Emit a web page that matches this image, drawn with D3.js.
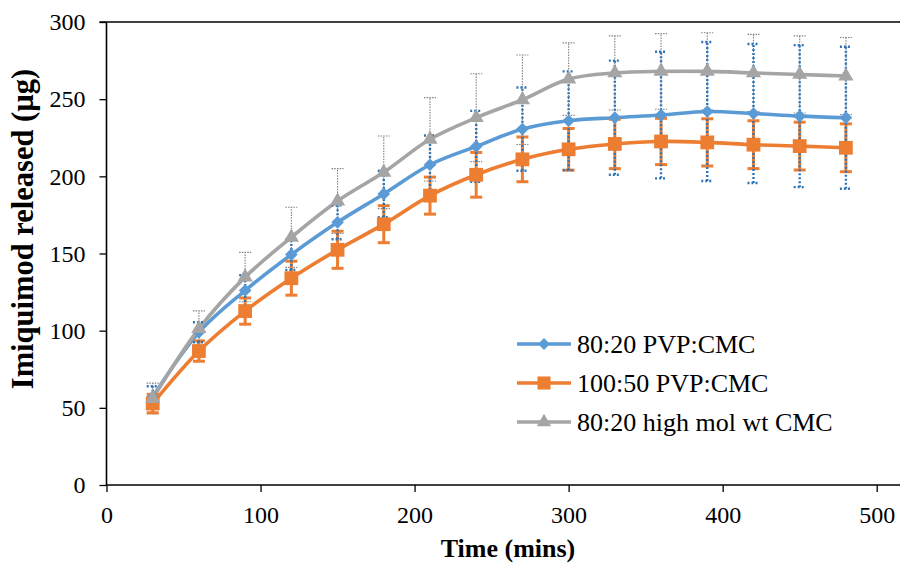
<!DOCTYPE html>
<html><head><meta charset="utf-8">
<script src="https://cdn.jsdelivr.net/npm/d3@7"></script>
<style>body{margin:0;background:#fff}svg{display:block}text{font-family:"Liberation Serif","Times New Roman",serif;fill:#000}</style>
</head><body><svg id="c" width="900" height="567"></svg>
<script>
const times = [30,60,90,120,150,180,210,240,270,300,330,360,390,420,450,480];
const seriesNames = ["80:20 PVP:CMC","100:50 PVP:CMC","80:20 high mol wt CMC"];
const blueVals = [57,99,126,149.3,170.2,188.6,207.5,219.4,230.6,236,238,239.7,242,240.7,239,238];
const blueErr  = [7,6.5,10,10,11,15,19,23,27,32,37,41,45,45,46,46];
const orangeVals = [52.8,86.8,112.7,134,152.4,169,187.5,201,211,217.5,221,222.6,222,220.5,219.6,218.5];
const orangeErr  = [6,6.6,8.5,11,12,12,12,14.5,14.5,13.5,16,15,15.3,15.5,15.5,15.5];
const grayVals = [56,101.3,134.7,160.5,184,202.6,224,238,249.6,263,267,268,268,267,266,265];
const grayErr  = [10,11.5,16,19.5,21,23.5,27,28.5,29,23.5,24,24.5,25,25,25,25];
const xTicks = [0,100,200,300,400,500];
const yTicks = [0,50,100,150,200,250,300];

const svg = d3.select("#c");
const X0 = 106.5;
const x = d3.scaleLinear().domain([0,500]).range([X0,876.7]);
const y = d3.scaleLinear().domain([0,300]).range([485,22]);

const series = [
  {name:seriesNames[0], vals:blueVals, err:blueErr, color:"#5B9BD5", sym:"diamond",
   eb:{color:"#2E75B6", w:2.4, dash:"2,2"}},
  {name:seriesNames[1], vals:orangeVals, err:orangeErr, color:"#ED7D31", sym:"square",
   eb:{color:"#ED7D31", w:3, dash:null}},
  {name:seriesNames[2], vals:grayVals, err:grayErr, color:"#A5A5A5", sym:"triangle",
   eb:{color:"#808080", w:1.1, dash:"1.5,1.2"}}
];

// axes
const gx = svg.append("g").attr("transform","translate(0,485)")
  .call(d3.axisBottom(x).tickValues(xTicks).tickSize(7).tickSizeOuter(0).tickPadding(14));
gx.select(".domain").remove();
svg.append("line").attr("x1",X0).attr("x2",900).attr("y1",485).attr("y2",485)
  .attr("stroke","#000").attr("stroke-width",1.6);
gx.selectAll("line").attr("stroke","#000").attr("stroke-width",1.3);
gx.selectAll("text").attr("font-size",24).attr("fill","#000");

const gy = svg.append("g").attr("transform",`translate(${X0},0)`)
  .call(d3.axisLeft(y).tickValues(yTicks).tickSize(7).tickSizeOuter(0).tickPadding(14));
gy.select(".domain").remove();
svg.append("line").attr("x1",X0).attr("x2",X0).attr("y1",22).attr("y2",485)
  .attr("stroke","#000").attr("stroke-width",1.6);
svg.append("line").attr("x1",99.5).attr("x2",900).attr("y1",22).attr("y2",22)
  .attr("stroke","#000").attr("stroke-width",1.6);
gy.selectAll("line").attr("stroke","#000").attr("stroke-width",1.3);
gy.selectAll("text").attr("font-size",24).attr("fill","#000");

// titles
svg.append("text").attr("x",508).attr("y",557).attr("text-anchor","middle")
  .attr("font-size",26).attr("font-weight","bold").text("Time (mins)");
svg.append("text").attr("transform","translate(33,229) rotate(-90)").attr("text-anchor","middle")
  .attr("font-size",30.5).attr("font-weight","bold").text("Imiquimod released (µg)");

const sym = {diamond:d3.symbolSquare, square:d3.symbolSquare, triangle:d3.symbolTriangle};
const symSize = {diamond:80, square:190, triangle:100};
const symRot = {diamond:45, square:0, triangle:0};

const line = d3.line().x((d,i)=>x(times[i])).y(d=>y(d)).curve(d3.curveCatmullRom.alpha(0.5));

// lines
series.forEach(s=>{
  svg.append("path").datum(s.vals).attr("d",line).attr("fill","none")
    .attr("stroke",s.color).attr("stroke-width",3.6);
});
// error bars (gray, orange, blue)
[2,1,0].forEach(k=>{
  const s = series[k];
  const g = svg.append("g").attr("stroke",s.eb.color).attr("stroke-width",s.eb.w)
    .attr("stroke-dasharray",s.eb.dash).attr("fill","none");
  s.vals.forEach((v,i)=>{
    const cx = x(times[i]), y1 = y(v+s.err[i]), y0 = y(v-s.err[i]);
    g.append("line").attr("x1",cx).attr("x2",cx).attr("y1",y0).attr("y2",y1);
    g.append("line").attr("x1",cx-6).attr("x2",cx+6).attr("y1",y1).attr("y2",y1);
    g.append("line").attr("x1",cx-6).attr("x2",cx+6).attr("y1",y0).attr("y2",y0);
  });
});
// markers
series.forEach(s=>{
  svg.append("g").selectAll("path").data(s.vals).join("path")
    .attr("transform",(d,i)=>`translate(${x(times[i])},${y(d)}) rotate(${symRot[s.sym]})`)
    .attr("d",d3.symbol(sym[s.sym],symSize[s.sym])).attr("fill",s.color);
});

// legend
series.forEach((s,k)=>{
  const ly = 344 + k*39;
  svg.append("line").attr("x1",517).attr("x2",571).attr("y1",ly).attr("y2",ly)
    .attr("stroke",s.color).attr("stroke-width",3.6);
  svg.append("path").attr("transform",`translate(544,${ly}) rotate(${symRot[s.sym]})`)
    .attr("d",d3.symbol(sym[s.sym],symSize[s.sym]*0.9)).attr("fill",s.color);
  svg.append("text").attr("x",577).attr("y",ly+9).attr("font-size",26).text(s.name);
});
</script></body></html>
